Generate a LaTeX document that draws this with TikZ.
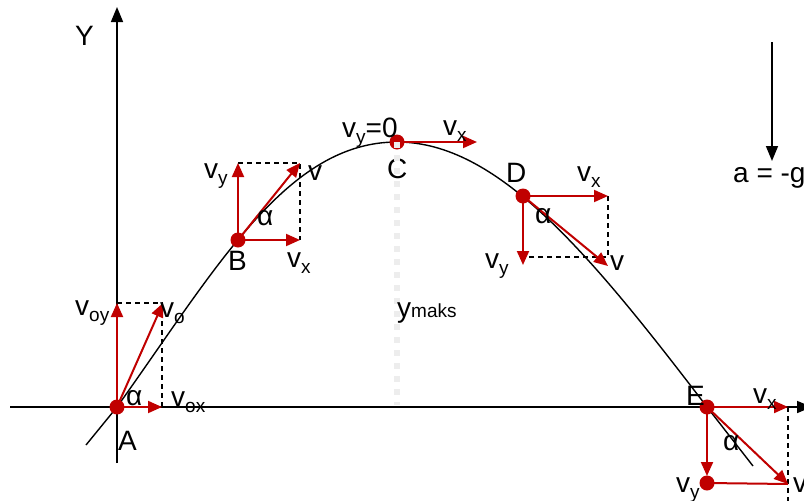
\documentclass[tikz,border=0pt]{standalone}
\usepackage{fontspec}
\setmainfont{Liberation Sans}
\usetikzlibrary{arrows.meta}
\definecolor{vred}{HTML}{C00000}
\newcommand{\vsb}[1]{\raisebox{-0.22em}{\fontsize{19}{19}\selectfont #1}}
\newcommand{\vsm}[1]{{\fontsize{19}{19}\selectfont #1}}
\begin{document}
\begin{tikzpicture}[x=1pt,y=-1pt,
  curve/.style={black, line width=1.4pt},
  axisline/.style={black, line width=1.6pt, -{Triangle[length=15pt,width=12pt]}},
  vec/.style={vred, line width=2pt, -{Triangle[length=14pt,width=12pt]}},
  plainred/.style={vred, line width=2pt},
  dashbox/.style={black, line width=1.4pt, dash pattern=on 5pt off 4pt},
  dot/.style={circle, fill=vred, inner sep=0pt, minimum size=15pt},
  lbl/.style={font=\fontsize{28}{32}\selectfont, inner sep=0pt, anchor=base west},
  ymx/.style={gray!14, line width=6pt, dash pattern=on 6pt off 7pt}]
\useasboundingbox (0,0) rectangle (804,501);

% trajectory points
\coordinate (pA) at (117,407);
\coordinate (pB) at (238,240);
\coordinate (pC) at (397,142);
\coordinate (pD) at (523,196);
\coordinate (pE) at (707,407);
\coordinate (tl) at (86,445);
\coordinate (tr) at (753,466);
\draw[curve] (tl) -- (pA) .. controls (217,267) and (287,142) .. (pC)
  .. controls (497,142) and (588,251) .. (pE) -- (tr);

% axes
\coordinate (xl) at (10,407);
\coordinate (xr) at (812,407);
\coordinate (yb) at (117,463);
\coordinate (yt) at (117,7);
\draw[axisline] (xl) -- (xr);
\draw[axisline] (yb) -- (yt);
\node[lbl] (ylab) at (75,45) {Y};

% gravity
\coordinate (gt) at (772,42);
\coordinate (gb) at (772,161);
\draw[axisline] (gt) -- (gb);
\node[lbl] (glab) at (733,182) {a = -g};

% point A
\coordinate (Aoy) at (117,303);
\coordinate (Ao) at (163,303);
\coordinate (Aox) at (162,407);
\coordinate (Aoc) at (162,303);
\draw[dashbox] (Aoy) -- (Aoc) -- (Aox);
\node[dot] (A) at (pA) {};
\draw[vec] (A.center) -- (Aoy);
\draw[vec] (A.center) -- (Ao);
\draw[vec] (A.center) -- (Aox);
\node[lbl] (lvoy) at (75,315) {v\vsb{oy}};
\node[lbl] (lvo) at (160,317) {v\vsb{o}};
\node[lbl] (laA) at (126,405) {α};
\node[lbl] (lvox) at (171,406) {v\vsb{ox}};
\node[lbl] (lA) at (118,450) {A};

% point B
\coordinate (By) at (238,163);
\coordinate (Bv) at (300,163);
\coordinate (Bx) at (300,240);
\draw[dashbox] (By) -- (Bv) -- (Bx);
\node[dot] (B) at (pB) {};
\draw[vec] (B.center) -- (By);
\draw[vec] (B.center) -- (Bv);
\draw[vec] (B.center) -- (Bx);
\node[lbl] (lvyB) at (204,178) {v\vsb{y}};
\node[lbl] (lvB) at (308,180) {v};
\node[lbl] (laB) at (257,225) {α};
\node[lbl] (lB) at (228,270) {B};
\node[lbl] (lvxB) at (287,267) {v\vsb{x}};

% point C
\node[dot] (C) at (pC) {};
\coordinate (Cx) at (477,142);
\draw[vec] (C.center) -- (Cx);
\node[lbl] (lvyC) at (342,137) {v\vsb{y}=0};
\node[lbl] (lvxC) at (443,135) {v\vsb{x}};
\node[lbl] (lC) at (387,178) {C};
\coordinate (Cfoot) at (397,405);
\draw[ymx] (C.center) -- (Cfoot);
\node[lbl] (lym) at (397,317) {y\vsm{maks}};

% point D
\coordinate (Dx) at (608,196);
\coordinate (Dy) at (523,265);
\coordinate (Dv) at (608,266);
\coordinate (Dc) at (608,257);
\coordinate (Dl) at (523,257);
\draw[dashbox] (Dx) -- (Dc) -- (Dl);
\node[dot] (D) at (pD) {};
\draw[vec] (D.center) -- (Dx);
\draw[vec] (D.center) -- (Dy);
\draw[vec] (D.center) -- (Dv);
\node[lbl] (lD) at (506,182) {D};
\node[lbl] (lvxD) at (577,181) {v\vsb{x}};
\node[lbl] (laD) at (535,223) {α};
\node[lbl] (lvyD) at (485,268) {v\vsb{y}};
\node[lbl] (lvD) at (610,270) {v};

% point E
\coordinate (Ex) at (788,407);
\coordinate (Ey) at (707,476);
\coordinate (Ev) at (788,484);
\coordinate (Eb) at (788,501);
\draw[dashbox] (Ex) -- (Eb);
\node[dot] (E) at (pE) {};
\node[dot] (E2) at (707,483) {};
\draw[plainred] (E2.center) -- (Ev);
\draw[vec] (E.center) -- (Ex);
\draw[vec] (E.center) -- (Ey);
\draw[vec] (E.center) -- (Ev);
\node[lbl] (lE) at (686,405) {E};
\node[lbl] (lvxE) at (753,403) {v\vsb{x}};
\node[lbl] (laE) at (723,450) {α};
\node[lbl] (lvyE) at (676,492) {v\vsb{y}};
\node[lbl] (lvE) at (793,492) {v};
\end{tikzpicture}
\end{document}
